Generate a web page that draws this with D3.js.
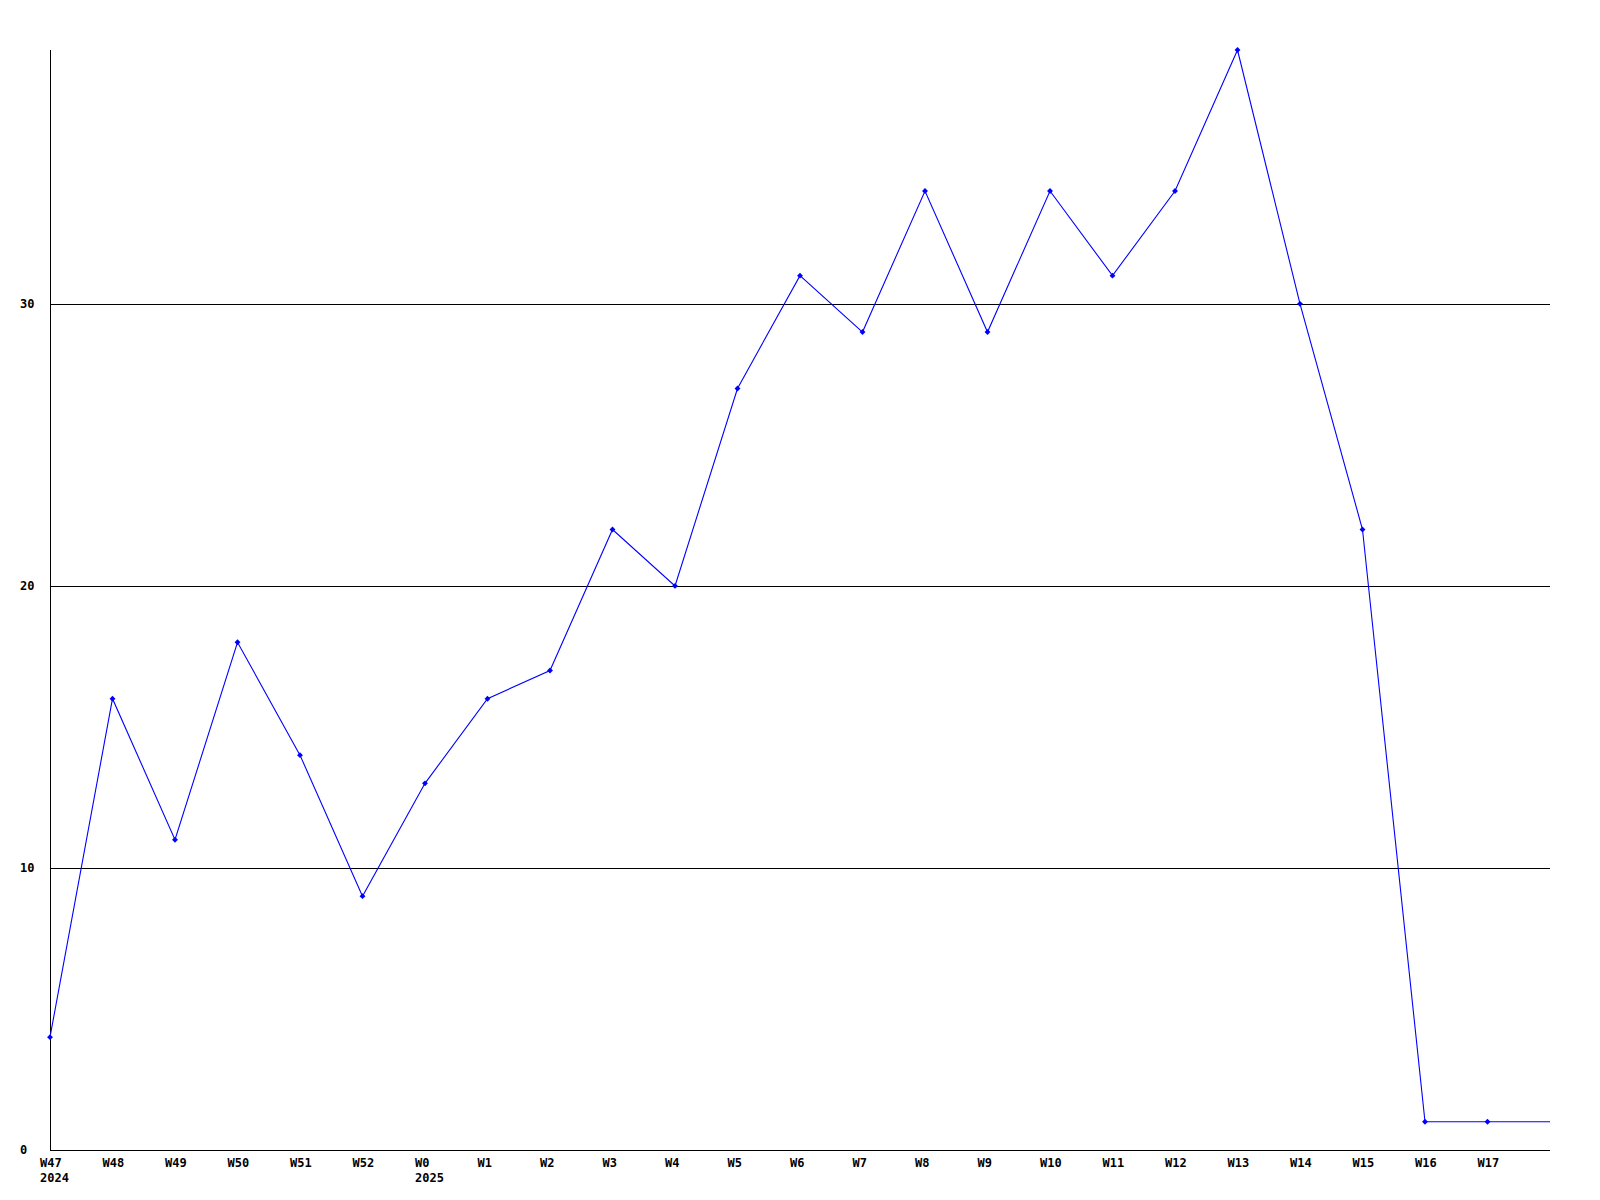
<!DOCTYPE html>
<html><head><meta charset="utf-8">
<script src="https://cdn.jsdelivr.net/npm/d3@7"></script>
<style>body{margin:0;background:#fff;} svg{display:block;} text{font-family:"DejaVu Sans Mono",monospace;font-weight:bold;font-size:12px;fill:#000;}</style>
</head><body>
<svg id="c" width="1600" height="1200"></svg>
<script>
const weeks = ["W47","W48","W49","W50","W51","W52","W0","W1","W2","W3","W4","W5","W6","W7","W8","W9","W10","W11","W12","W13","W14","W15","W16","W17"];
const yearLabels = [{i:0, label:"2024"}, {i:6, label:"2025"}];
const values = [4,16,11,18,14,9,13,16,17,22,20,27,31,29,34,29,34,31,34,39,30,22,1,1];
const yTicks = [0,10,20,30];

const svg = d3.select("#c");
const x = d3.scaleLinear().domain([0, weeks.length]).range([50, 1550]);
const y = d3.scaleLinear().domain([0, 39]).range([1150, 50]);

// gridlines
svg.selectAll("line.grid").data(yTicks.filter(d=>d>0)).enter().append("line")
  .attr("x1", x(0)).attr("x2", x(weeks.length))
  .attr("y1", d=>y(d)+0.5).attr("y2", d=>y(d)+0.5)
  .attr("stroke","#000").attr("stroke-width",1).attr("shape-rendering","crispEdges");

// axes
svg.append("line").attr("x1", x(0)+0.5).attr("x2", x(0)+0.5).attr("y1", y(39)).attr("y2", y(0))
  .attr("stroke","#000").attr("shape-rendering","crispEdges");
svg.append("line").attr("x1", x(0)).attr("x2", x(weeks.length)).attr("y1", y(0)+0.5).attr("y2", y(0)+0.5)
  .attr("stroke","#000").attr("shape-rendering","crispEdges");

// y labels
svg.selectAll("text.yl").data(yTicks).enter().append("text")
  .attr("x", 20).attr("y", d=>y(d)).attr("dy","0.35em").text(d=>d);

// x labels
svg.selectAll("text.xl").data(weeks).enter().append("text")
  .attr("x", (d,i)=>x(i)-10).attr("y", 1167).text(d=>d);
svg.selectAll("text.yr").data(yearLabels).enter().append("text")
  .attr("x", d=>x(d.i)-10).attr("y", 1182).text(d=>d.label);

// line (extends to right edge with last value)
const pts = values.map((v,i)=>[x(i), y(v)]);
pts.push([x(weeks.length), y(values[values.length-1])]);
svg.append("path").attr("d", d3.line()(pts)).attr("fill","none").attr("stroke","#0000ff").attr("stroke-width",1.1);

// markers
svg.selectAll("path.m").data(values).enter().append("path")
  .attr("transform",(d,i)=>`translate(${x(i)},${y(d)})`)
  .attr("d", d3.symbol().type(d3.symbolDiamond2).size(22)())
  .attr("fill","#0000ff");
</script>
</body></html>
